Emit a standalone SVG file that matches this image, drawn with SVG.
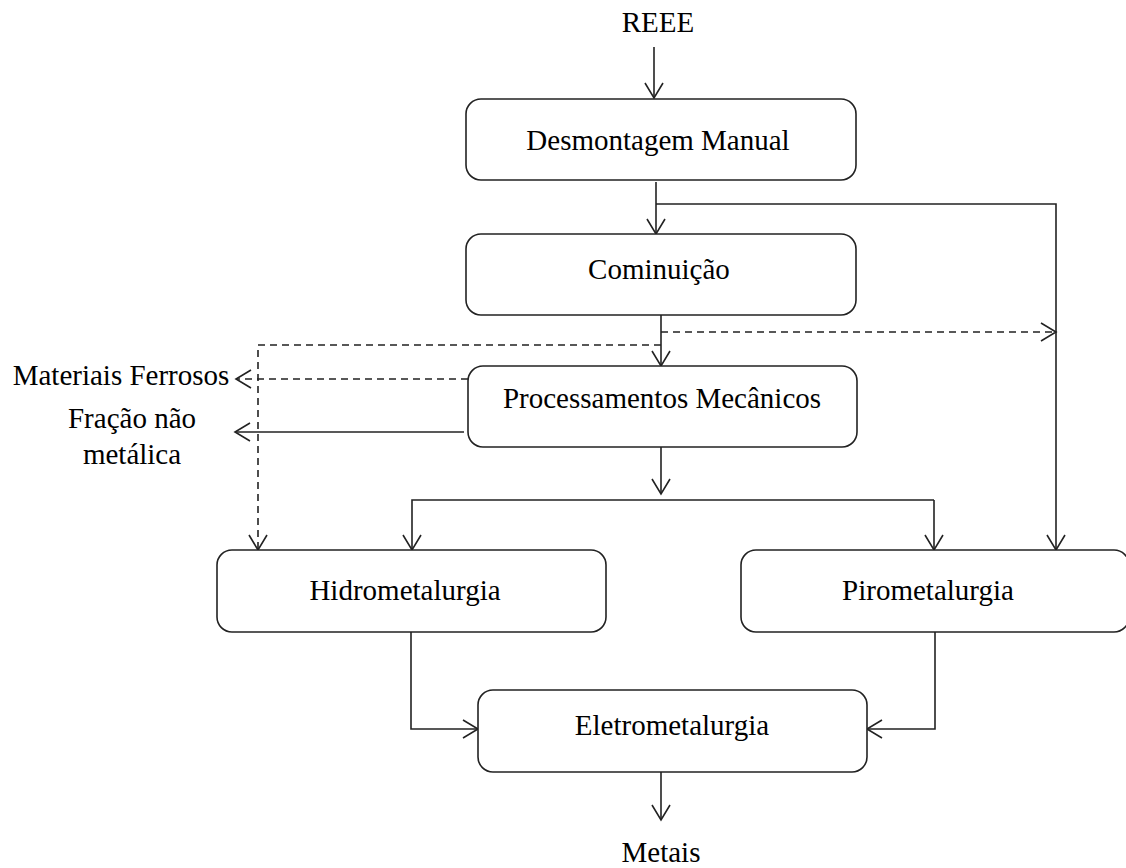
<svg xmlns="http://www.w3.org/2000/svg" width="1126" height="868" viewBox="0 0 1126 868">
<defs>
<marker id="ah" markerUnits="userSpaceOnUse" markerWidth="20" markerHeight="22" viewBox="-16 -11 17 22" refX="0" refY="0" orient="auto">
<path d="M-15,-9 L0,0 L-15,9" fill="none" stroke="#222" stroke-width="1.6"/>
</marker>
</defs>
<style>
.box{fill:#fff;stroke:#222;stroke-width:1.6}
.t{font-family:"Liberation Serif","Times New Roman",serif;font-size:29px;fill:#000;text-anchor:middle}
.c{fill:none;stroke:#222;stroke-width:1.6}
.d{stroke-dasharray:7 5}
.a{marker-end:url(#ah)}
</style>
<rect width="1126" height="868" fill="#fff"/>
<g id="connectors">
<path class="c a" d="M654,47 V98"/>
<path class="c a" d="M656,182 V234"/>
<path class="c a" d="M656,204 H1056 V550"/>
<path class="c a" d="M661,315 V366"/>
<path class="c d a" d="M661,332 H1056"/>
<path class="c d a" d="M661,345 H258 V550"/>
<path class="c d a" d="M468,379 H236"/>
<path class="c a" d="M464,432 H235"/>
<path class="c a" d="M661,447 V494"/>
<path class="c a" d="M934,500 H412 V550"/>
<path class="c a" d="M934,500 V550"/>
<path class="c a" d="M411,632 V729 H478"/>
<path class="c a" d="M935,632 V729 H867"/>
<path class="c a" d="M661,772 V820"/>
</g>
<g id="reee"><text class="t" x="658" y="32">REEE</text></g>
<g id="desmontagem"><rect class="box" x="466" y="99" width="390" height="81" rx="15"/><text class="t" x="658" y="150">Desmontagem Manual</text></g>
<g id="cominuicao"><rect class="box" x="466" y="234" width="390" height="81" rx="15"/><text class="t" x="659" y="279">Cominuição</text></g>
<g id="processamentos"><rect class="box" x="468" y="366" width="389" height="81" rx="15"/><text class="t" x="662" y="408">Processamentos Mecânicos</text></g>
<g id="ferrosos"><text class="t" x="121" y="385">Materiais Ferrosos</text></g>
<g id="fracao"><text class="t" x="132" y="428">Fração não</text><text class="t" x="132" y="464">metálica</text></g>
<g id="hidro"><rect class="box" x="217" y="550" width="389" height="82" rx="15"/><text class="t" x="405" y="600">Hidrometalurgia</text></g>
<g id="piro"><rect class="box" x="741" y="550" width="388" height="82" rx="15"/><text class="t" x="928" y="600">Pirometalurgia</text></g>
<g id="eletro"><rect class="box" x="478" y="690" width="389" height="82" rx="15"/><text class="t" x="672" y="735">Eletrometalurgia</text></g>
<g id="metais"><text class="t" x="661" y="862">Metais</text></g>
</svg>
